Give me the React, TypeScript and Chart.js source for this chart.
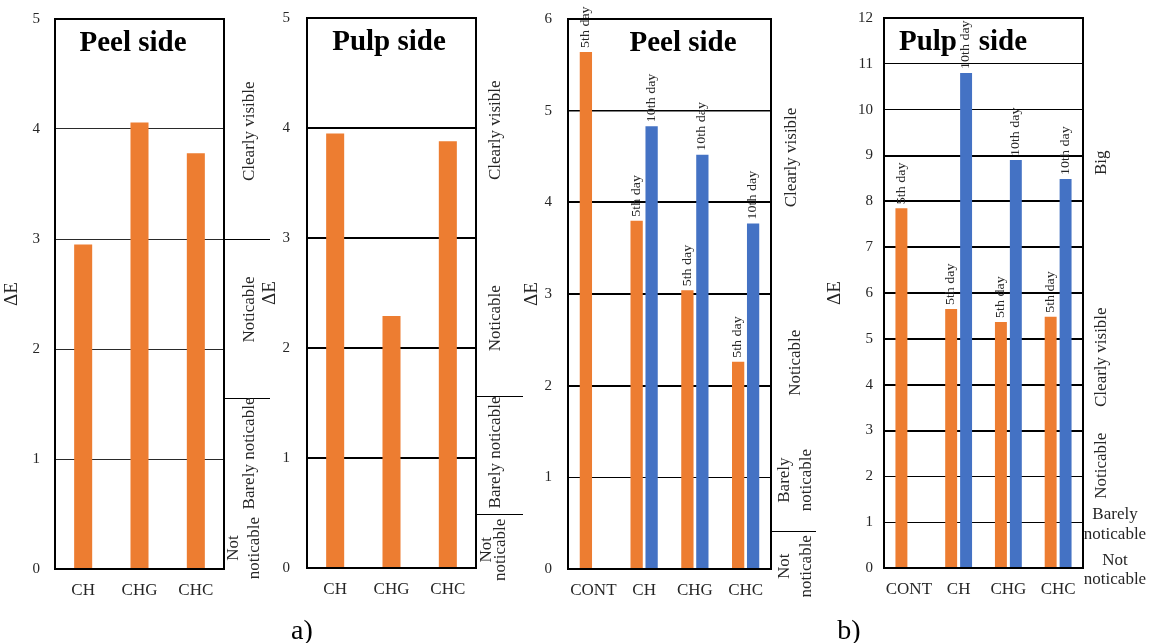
import React, { useEffect, useRef } from "react";
import { Chart, registerables } from "chart.js";
Chart.register(...registerables);

const W = 1153;
const H = 643;
const ORANGE = "#ED7D31";
const BLUE = "#4472C4";
const SERIF = '"Liberation Serif", "Times New Roman", serif';
const INK = "#262626";

// ---- data ----
const categoriesA = ["CH", "CHG", "CHC"];
const peelA = [2.95, 4.06, 3.78];
const pulpA = [3.95, 2.29, 3.88];
const categoriesB = ["CONT", "CH", "CHG", "CHC"];
const peel5th: (number | null)[] = [5.64, 3.8, 3.04, 2.26];
const peel10th: (number | null)[] = [null, 4.83, 4.52, 3.77];
const pulp5th: (number | null)[] = [7.85, 5.65, 5.37, 5.48];
const pulp10th: (number | null)[] = [null, 10.8, 8.9, 8.49];
const dayTags = ["5th day", "10th day"];
const yMaxA = 5;
const yMaxPeelB = 6;
const yMaxPulpB = 12;

type Note = { text: string; v: number; x: number; rot: boolean };
type Sep = { v: number; x2: number };
type Series = { data: (number | null)[]; color: string; tag?: string };
type PanelCfg = {
  key: string;
  area: { l: number; r: number; t: number; b: number };
  categories: string[];
  series: Series[];
  yMax: number;
  title: string;
  titleX: number;
  gridW: (v: number) => number;
  gridColor: string;
  barPct: number;
  catPct: number;
  tickPad: number;
  notes: Note[];
  seps: Sep[];
  axisTitleX: number;
};

const YW = 40;
const XH = 40;

const panels: PanelCfg[] = [
  {
    key: "p1",
    area: { l: 55, r: 224, t: 19, b: 569 },
    categories: categoriesA,
    series: [{ data: peelA, color: ORANGE }],
    yMax: yMaxA,
    title: "Peel side",
    titleX: 133,
    gridW: () => 1,
    gridColor: "#2a2a2a",
    barPct: 0.32,
    catPct: 1,
    tickPad: 15,
    notes: [
      { text: "Clearly visible", v: 3.98, x: 250, rot: true },
      { text: "Noticable", v: 2.36, x: 250, rot: true },
      { text: "Barely noticable", v: 1.05, x: 250, rot: true },
      { text: "Not", v: 0.19, x: 234, rot: true },
      { text: "noticable", v: 0.19, x: 255, rot: true },
    ],
    seps: [
      { v: 3.0, x2: 270 },
      { v: 1.55, x2: 270 },
    ],
    axisTitleX: 12,
  },
  {
    key: "p2",
    area: { l: 307, r: 476, t: 18, b: 568 },
    categories: categoriesA,
    series: [{ data: pulpA, color: ORANGE }],
    yMax: yMaxA,
    title: "Pulp side",
    titleX: 389,
    gridW: () => 2,
    gridColor: "#000",
    barPct: 0.32,
    catPct: 1,
    tickPad: 17,
    notes: [
      { text: "Clearly visible", v: 3.98, x: 496, rot: true },
      { text: "Noticable", v: 2.27, x: 496, rot: true },
      { text: "Barely noticable", v: 1.05, x: 496, rot: true },
      { text: "Not", v: 0.165, x: 487, rot: true },
      { text: "noticable", v: 0.165, x: 501, rot: true },
    ],
    seps: [
      { v: 1.56, x2: 523 },
      { v: 0.49, x2: 523 },
    ],
    axisTitleX: 270,
  },
  {
    key: "p3",
    area: { l: 568, r: 771, t: 19, b: 569 },
    categories: categoriesB,
    series: [
      { data: peel5th, color: ORANGE, tag: dayTags[0] },
      { data: peel10th, color: BLUE, tag: dayTags[1] },
    ],
    yMax: yMaxPeelB,
    title: "Peel side",
    titleX: 683,
    gridW: (v) => (v >= 2 && v <= 4 ? 2 : v === 5 ? 1.5 : 1),
    gridColor: "#000",
    barPct: 0.82,
    catPct: 0.59,
    tickPad: 16,
    notes: [
      { text: "Clearly visible", v: 4.49, x: 792, rot: true },
      { text: "Noticable", v: 2.25, x: 796, rot: true },
      { text: "Barely", v: 0.97, x: 785, rot: true },
      { text: "noticable", v: 0.97, x: 807, rot: true },
      { text: "Not", v: 0.03, x: 785, rot: true },
      { text: "noticable", v: 0.03, x: 807, rot: true },
    ],
    seps: [{ v: 0.41, x2: 816 }],
    axisTitleX: 532,
  },
  {
    key: "p4",
    area: { l: 884, r: 1083, t: 18, b: 568 },
    categories: categoriesB,
    series: [
      { data: pulp5th, color: ORANGE, tag: dayTags[0] },
      { data: pulp10th, color: BLUE, tag: dayTags[1] },
    ],
    yMax: yMaxPulpB,
    title: "Pulp   side",
    titleX: 963,
    gridW: (v) => (v >= 3 && v <= 9 ? 2 : 1),
    gridColor: "#000",
    barPct: 0.8,
    catPct: 0.6,
    tickPad: 11,
    notes: [
      { text: "Big", v: 8.84, x: 1102, rot: true },
      { text: "Clearly visible", v: 4.6, x: 1102, rot: true },
      { text: "Noticable", v: 2.23, x: 1102, rot: true },
      { text: "Barely", v: 1.16, x: 1115, rot: false },
      { text: "noticable", v: 0.72, x: 1115, rot: false },
      { text: "Not", v: 0.17, x: 1115, rot: false },
      { text: "noticable", v: -0.26, x: 1115, rot: false },
    ],
    seps: [],
    axisTitleX: 835,
  },
];

function makePlugin(p: PanelCfg) {
  return {
    id: "decor_" + p.key,
    afterDatasetsDraw(chart: any) {
      const ctx = chart.ctx;
      ctx.save();
      ctx.fillStyle = INK;
      ctx.font = `14px ${SERIF}`;
      p.series.forEach((s, i) => {
        if (!s.tag) return;
        const meta = chart.getDatasetMeta(i);
        meta.data.forEach((el: any, j: number) => {
          if (s.data[j] == null) return;
          ctx.save();
          ctx.translate(el.x, el.y - 4);
          ctx.rotate(-Math.PI / 2);
          ctx.scale(1, 0.85);
          ctx.textAlign = "left";
          ctx.textBaseline = "middle";
          ctx.fillText(s.tag as string, 0, 0);
          ctx.restore();
        });
      });
      ctx.restore();
    },
    afterDraw(chart: any) {
      const { ctx, chartArea: a, scales } = chart;
      const y = scales.y;
      ctx.save();
      ctx.strokeStyle = "#000";
      ctx.lineWidth = 2;
      ctx.strokeRect(a.left, a.top, a.right - a.left, a.bottom - a.top);
      ctx.lineWidth = 1;
      p.seps.forEach((s) => {
        const py = Math.round(y.getPixelForValue(s.v)) + 0.5;
        ctx.beginPath();
        ctx.moveTo(a.right, py);
        ctx.lineTo(s.x2, py);
        ctx.stroke();
      });
      ctx.fillStyle = INK;
      ctx.font = `17px ${SERIF}`;
      ctx.textAlign = "center";
      ctx.textBaseline = "middle";
      p.notes.forEach((n) => {
        const py = y.getPixelForValue(n.v);
        ctx.save();
        ctx.translate(n.x, py);
        if (n.rot) ctx.rotate(-Math.PI / 2);
        ctx.fillText(n.text, 0, 0);
        ctx.restore();
      });
      ctx.font = `19px ${SERIF}`;
      ctx.save();
      ctx.translate(p.axisTitleX, (a.top + a.bottom) / 2);
      ctx.rotate(-Math.PI / 2);
      ctx.fillText("\u0394E", 0, 0);
      ctx.restore();
      ctx.fillStyle = "#000";
      ctx.font = `bold 29px ${SERIF}`;
      ctx.fillText(p.title, p.titleX, a.top + 25);
      ctx.restore();
    },
  };
}

function Panel({ p }: { p: PanelCfg }) {
  const ref = useRef<HTMLCanvasElement>(null);
  useEffect(() => {
    if (!ref.current) return;
    const chart = new Chart(ref.current, {
      type: "bar",
      data: {
        labels: p.categories,
        datasets: p.series.map((s) => ({
          data: s.data as any,
          backgroundColor: s.color,
          borderWidth: 0,
          barPercentage: p.barPct,
          categoryPercentage: p.catPct,
        })),
      },
      options: {
        responsive: false,
        animation: false,
        events: [],
        layout: {
          padding: {
            left: p.area.l - YW,
            right: W - p.area.r,
            top: p.area.t,
            bottom: H - p.area.b - XH,
          },
        },
        plugins: {
          legend: { display: false },
          tooltip: { enabled: false },
          title: { display: false },
        },
        scales: {
          x: {
            grid: { display: false },
            border: { display: false },
            ticks: {
              font: { family: SERIF, size: 17 },
              color: INK,
              padding: 3,
              autoSkip: false,
              maxRotation: 0,
            },
            afterFit: (s: any) => {
              s.height = XH;
              s.paddingLeft = 0;
              s.paddingRight = 0;
            },
          },
          y: {
            min: 0,
            max: p.yMax,
            grid: {
              drawTicks: false,
              color: p.gridColor,
              lineWidth: (c: any) => p.gridW(c.tick ? c.tick.value : 0),
            },
            border: { display: false },
            ticks: {
              stepSize: 1,
              font: { family: SERIF, size: 15 },
              color: INK,
              padding: p.tickPad,
            },
            afterFit: (s: any) => {
              s.width = YW;
              s.paddingTop = 0;
              s.paddingBottom = 0;
            },
          },
        },
      } as any,
      plugins: [makePlugin(p)],
    });
    return () => chart.destroy();
  }, [p]);
  return (
    <canvas
      ref={ref}
      width={W}
      height={H}
      style={{ position: "absolute", left: 0, top: 0, width: W, height: H }}
    />
  );
}

export default function App() {
  const cap: React.CSSProperties = {
    position: "absolute",
    fontFamily: SERIF,
    fontSize: 28,
    color: "#000",
    transform: "translate(-50%, -50%)",
    lineHeight: 1,
  };
  return (
    <div
      style={{
        position: "fixed",
        left: 0,
        top: 0,
        width: W,
        height: H,
        background: "#fff",
        overflow: "hidden",
      }}
    >
      {panels.map((p) => (
        <Panel key={p.key} p={p} />
      ))}
      <div style={{ ...cap, left: 302, top: 630 }}>a)</div>
      <div style={{ ...cap, left: 849, top: 630 }}>b)</div>
    </div>
  );
}
